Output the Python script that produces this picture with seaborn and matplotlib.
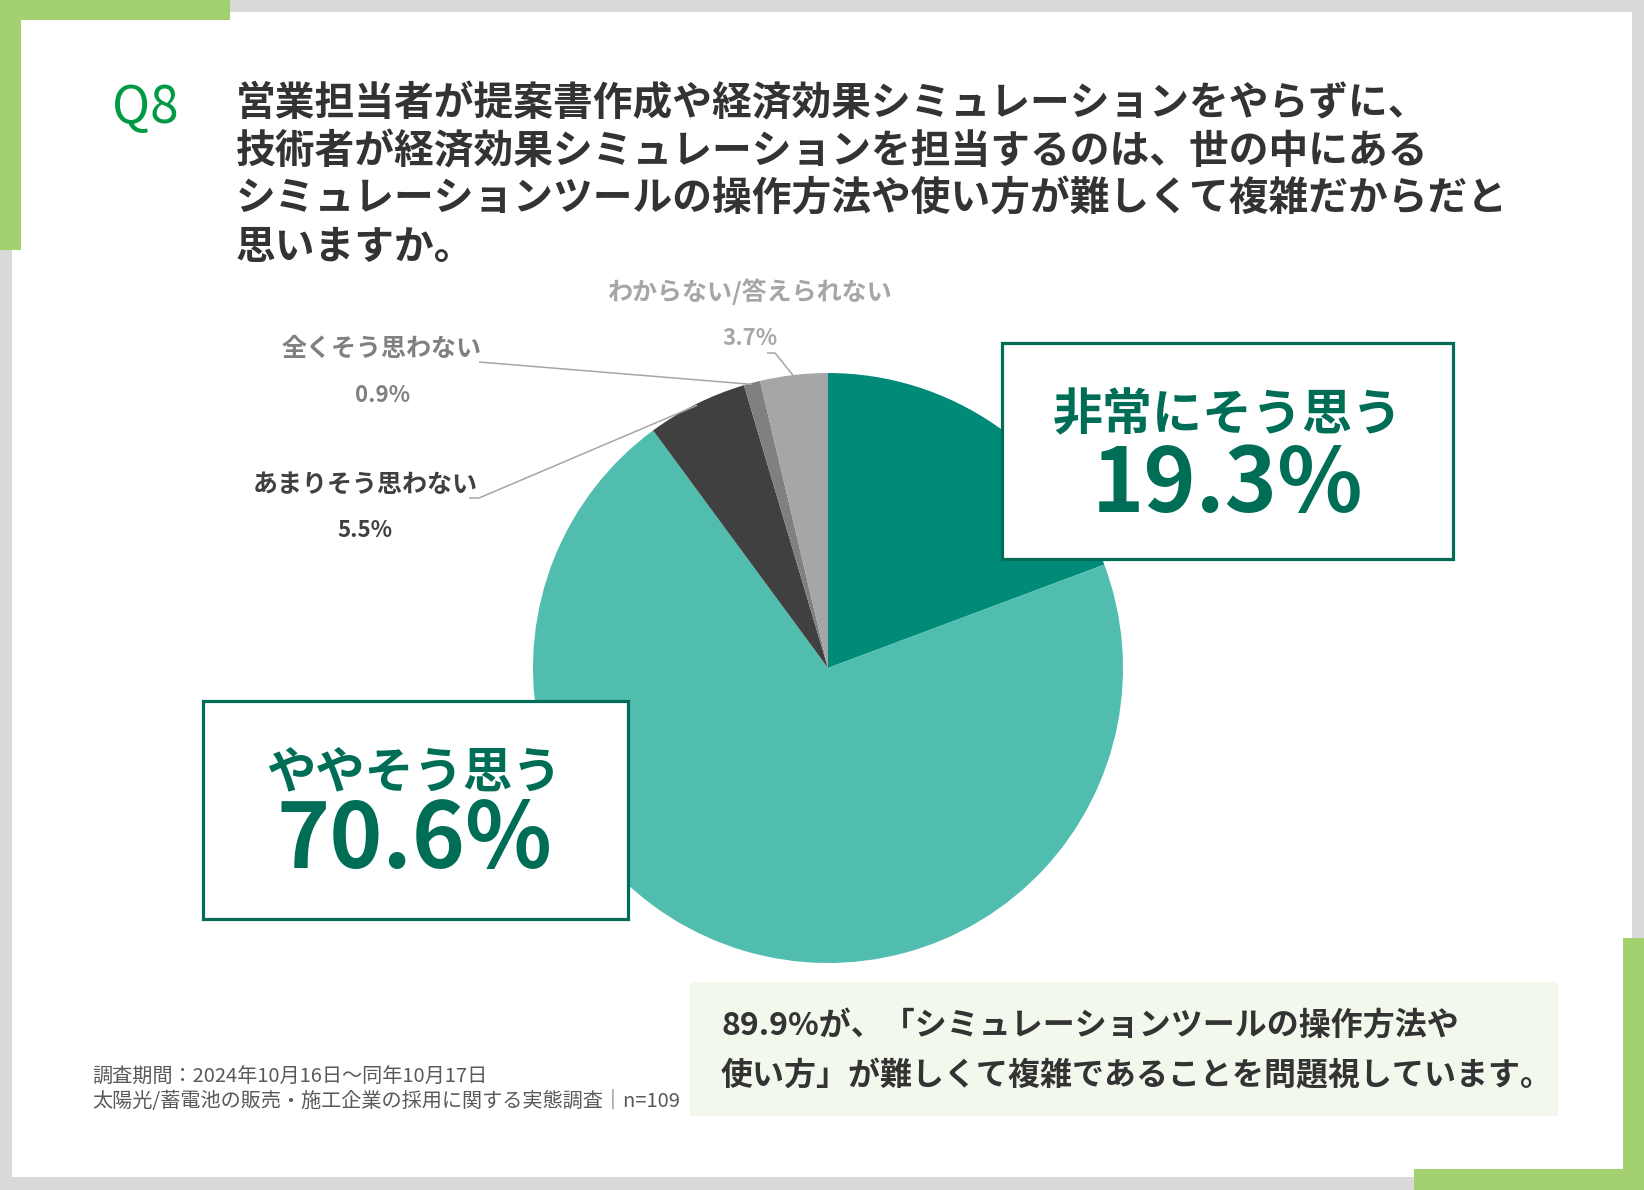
"""
Q8 pie chart: survey of solar / battery sales companies
"""

import numpy as np
import matplotlib
matplotlib.use('Agg')
import matplotlib.pyplot as plt
import seaborn as sns
from matplotlib.patches import Rectangle

# ---- data ----
categories = ['非常にそう思う', 'ややそう思う', 'あまりそう思わない', '全くそう思わない', 'わからない/答えられない']
shares = [19.3, 70.6, 5.5, 0.9, 3.7]
wedge_colors = ['#008b79', '#50bdae', '#404040', '#808080', '#a6a6a6']

question_no = 'Q8'
question_lines = [
    '営業担当者が提案書作成や経済効果シミュレーションをやらずに、',
    '技術者が経済効果シミュレーションを担当するのは、世の中にある',
    'シミュレーションツールの操作方法や使い方が難しくて複雑だからだと',
    '思いますか。',
]
summary_lines = [
    '89.9%が、「シミュレーションツールの操作方法や',
    '使い方」が難しくて複雑であることを問題視しています。',
]
footnote_lines = [
    '調査期間：2024年10月16日～同年10月17日',
    '太陽光/蓄電池の販売・施工企業の採用に関する実態調査｜n=109',
]

sns.set_theme(style='white')
plt.rcParams['font.family'] = ['Noto Sans CJK JP', 'DejaVu Sans']

W, H = 1644, 1190
GRAY = '#d9d9d9'
LEAF = '#a3d16f'
DEEP = '#006e56'
TEXT = '#333333'

fig = plt.figure(figsize=(W / 100, H / 100), dpi=100)
fig.patch.set_facecolor(GRAY)


def rect(ax, x0, y0, x1, y1, **kw):
    ax.add_patch(Rectangle((x0, y0), x1 - x0, y1 - y0, **kw))


# ---- frame ----
bg = fig.add_axes([0, 0, 1, 1], zorder=0)
bg.set_xlim(0, W)
bg.set_ylim(H, 0)
bg.axis('off')
rect(bg, 11.5, 12, 1632, 1177, facecolor='white', edgecolor='none')
rect(bg, 0, 0, 230, 20, facecolor=LEAF, edgecolor='none')
rect(bg, 0, 0, 21, 250, facecolor=LEAF, edgecolor='none')
rect(bg, 1623, 938, W, H, facecolor=LEAF, edgecolor='none')
rect(bg, 1414, 1169, W, H, facecolor=LEAF, edgecolor='none')
rect(bg, 690, 982, 1558, 1116, facecolor='#f3f8ed', edgecolor='none')

# ---- pie ----
cx, cy, r = 828, 668, 295
pie_ax = fig.add_axes([(cx - r) / W, (H - cy - r) / H, 2 * r / W, 2 * r / H], zorder=1)
wedges, _ = pie_ax.pie(shares, colors=wedge_colors, startangle=90, counterclock=False,
                       radius=1, wedgeprops=dict(linewidth=0))
pie_ax.set_xlim(-1, 1)
pie_ax.set_ylim(-1, 1)
pie_ax.set_aspect('equal')
pie_ax.axis('off')


def to_pie(x, y):
    return (x - cx) / r, (cy - y) / r


# outside labels for the small slices: (name pos, pct pos, leader elbow points, colour)
outside = {
    2: dict(name=(365, 492), pct=(365, 537), elbow=[(469, 498), (479, 498)], color='#404040'),
    3: dict(name=(382, 356), pct=(383, 402), elbow=[(479, 362)], color='#808080'),
    4: dict(name=(750, 300), pct=(750, 345), elbow=[(767, 353), (775, 353)], color='#a6a6a6'),
}
for i, opt in outside.items():
    w = wedges[i]
    mid = np.deg2rad((w.theta1 + w.theta2) / 2)
    pts = [to_pie(*p) for p in opt['elbow']] + [(np.cos(mid) * 0.995, np.sin(mid) * 0.995)]
    xs, ys = zip(*pts)
    pie_ax.plot(xs, ys, color='#a6a6a6', lw=1.1, clip_on=False, solid_capstyle='butt')
    nx, ny = to_pie(*opt['name'])
    pie_ax.text(nx, ny, categories[i], ha='center', va='baseline', fontsize=18,
                fontweight='bold', color=opt['color'])
    px, py = to_pie(*opt['pct'])
    pie_ax.text(px, py, f'{shares[i]}%', ha='center', va='baseline', fontsize=16,
                fontweight='bold', color=opt['color'])

# ---- overlay: boxes and text ----
ov = fig.add_axes([0, 0, 1, 1], zorder=3)
ov.set_xlim(0, W)
ov.set_ylim(H, 0)
ov.axis('off')
ov.patch.set_alpha(0)

boxes = [
    dict(idx=0, box=(1002, 343, 1453, 559), cx=1228, head_y=430, pct_y=512, head=36, pct=64),
    dict(idx=1, box=(203, 701, 628, 919), cx=414, head_y=788, pct_y=868, head=35.5, pct=65),
]
for b in boxes:
    x0, y0, x1, y1 = b['box']
    rect(ov, x0, y0, x1, y1, facecolor='white', edgecolor=DEEP, linewidth=2.3)
    ov.text(b['cx'], b['head_y'], categories[b['idx']], ha='center', va='baseline',
            fontsize=b['head'], fontweight='bold', color=DEEP)
    ov.text(b['cx'], b['pct_y'], f"{shares[b['idx']]}%", ha='center', va='baseline',
            fontsize=b['pct'], fontweight='bold', color=DEEP)

# title
ov.text(112, 123, question_no, ha='left', va='baseline', fontsize=37, color='#009a44')
for k, line in enumerate(question_lines):
    ov.text(236, 115 + 48 * k, line, ha='left', va='baseline', fontsize=28.6,
            fontweight='bold', color=TEXT)

# summary
for k, line in enumerate(summary_lines):
    ov.text(721, 1035 + 50 * k, line, ha='left', va='baseline', fontsize=23,
            fontweight='bold', color=TEXT)

# footnote
for k, line in enumerate(footnote_lines):
    ov.text(92, 1083 + 24 * k, line, ha='left', va='baseline', fontsize=14.5, color='#595959')

plt.savefig('out.png', dpi=100, facecolor=fig.get_facecolor())
plt.close()
